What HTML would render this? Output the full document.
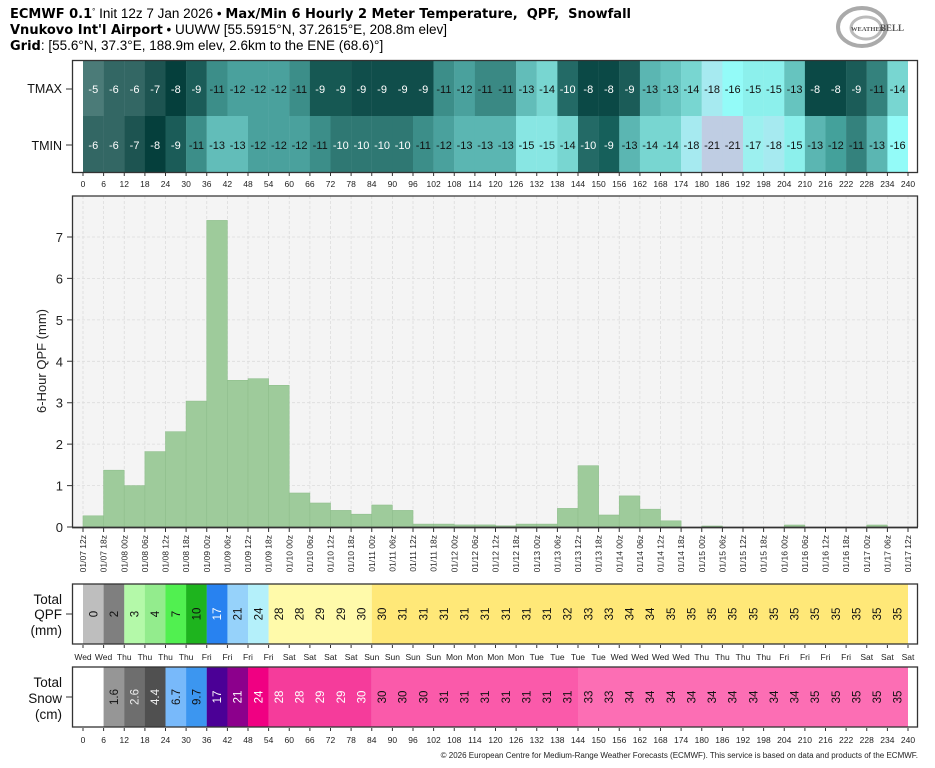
<!DOCTYPE html>
<html><head><meta charset="utf-8"><style>
html,body{margin:0;padding:0;background:#fff;}
svg{display:block;font-family:"Liberation Sans","DejaVu Sans",sans-serif;}
.t{font-size:8.5px;fill:#222;text-anchor:middle;}
.c{font-size:11px;text-anchor:middle;}
.d{font-size:8.5px;fill:#222;text-anchor:end;}
.b{font-family:"DejaVu Sans",sans-serif;font-weight:bold;font-size:13px;}
</style></head><body>
<svg width="935" height="768" viewBox="0 0 935 768" xmlns="http://www.w3.org/2000/svg">
<!-- header -->
<text x="10" y="18" font-size="13.5" fill="#000"><tspan class="b">ECMWF 0.1</tspan><tspan font-size="8" dy="-4">°</tspan><tspan dy="4"> Init 12z 7 Jan 2026 • </tspan><tspan class="b">Max/Min 6 Hourly 2 Meter Temperature,&#160; QPF,&#160; Snowfall</tspan></text>
<text x="10" y="34" font-size="13.5" fill="#000"><tspan class="b">Vnukovo Int'l Airport</tspan> • UUWW [55.5915°N, 37.2615°E, 208.8m elev]</text>
<text x="10" y="50" font-size="13.5" fill="#000"><tspan class="b">Grid</tspan>: [55.6°N, 37.3°E, 188.9m elev, 2.6km to the ENE (68.6)°]</text>
<!-- logo -->
<g fill="none" stroke="#999">
<ellipse cx="862" cy="27" rx="24" ry="19" stroke-width="4" stroke="#aaa"/>
<ellipse cx="866" cy="28" rx="15" ry="11" stroke-width="3" stroke="#bbb"/>
</g>
<text x="851" y="31" font-size="6.5" font-family="Liberation Serif,serif" fill="#555" font-weight="bold">WEATHER</text>
<text x="880" y="31" font-size="9" font-family="Liberation Serif,serif" fill="#555" font-weight="bold">BELL</text>

<!-- heatmap -->
<g>
<g transform="translate(83,0)">
<rect x="0" y="61" width="20.8" height="55" fill="#4b7b78"/><text x="10.3" y="93" class="c" fill="#fff">-5</text>
<rect x="0" y="116" width="20.8" height="56" fill="#336764"/><text x="10.3" y="149" class="c" fill="#fff">-6</text></g>
<g transform="translate(103.6,0)">
<rect x="0" y="61" width="20.8" height="55" fill="#336764"/><text x="10.3" y="93" class="c" fill="#fff">-6</text>
<rect x="0" y="116" width="20.8" height="56" fill="#336764"/><text x="10.3" y="149" class="c" fill="#fff">-6</text></g>
<g transform="translate(124.25,0)">
<rect x="0" y="61" width="20.8" height="55" fill="#336764"/><text x="10.3" y="93" class="c" fill="#fff">-6</text>
<rect x="0" y="116" width="20.8" height="56" fill="#1d5451"/><text x="10.3" y="149" class="c" fill="#fff">-7</text></g>
<g transform="translate(144.9,0)">
<rect x="0" y="61" width="20.8" height="55" fill="#1d5451"/><text x="10.3" y="93" class="c" fill="#fff">-7</text>
<rect x="0" y="116" width="20.8" height="56" fill="#053f3c"/><text x="10.3" y="149" class="c" fill="#fff">-8</text></g>
<g transform="translate(165.5,0)">
<rect x="0" y="61" width="20.8" height="55" fill="#053f3c"/><text x="10.3" y="93" class="c" fill="#fff">-8</text>
<rect x="0" y="116" width="20.8" height="56" fill="#1b5c58"/><text x="10.3" y="149" class="c" fill="#fff">-9</text></g>
<g transform="translate(186.1,0)">
<rect x="0" y="61" width="20.8" height="55" fill="#1b5c58"/><text x="10.3" y="93" class="c" fill="#fff">-9</text>
<rect x="0" y="116" width="20.8" height="56" fill="#3c8e89"/><text x="10.3" y="149" class="c" fill="#111">-11</text></g>
<g transform="translate(206.75,0)">
<rect x="0" y="61" width="20.8" height="55" fill="#3c8e89"/><text x="10.3" y="93" class="c" fill="#111">-11</text>
<rect x="0" y="116" width="20.8" height="56" fill="#62bdb9"/><text x="10.3" y="149" class="c" fill="#111">-13</text></g>
<g transform="translate(227.4,0)">
<rect x="0" y="61" width="20.8" height="55" fill="#4aa19d"/><text x="10.3" y="93" class="c" fill="#111">-12</text>
<rect x="0" y="116" width="20.8" height="56" fill="#62bdb9"/><text x="10.3" y="149" class="c" fill="#111">-13</text></g>
<g transform="translate(248,0)">
<rect x="0" y="61" width="20.8" height="55" fill="#4aa19d"/><text x="10.3" y="93" class="c" fill="#111">-12</text>
<rect x="0" y="116" width="20.8" height="56" fill="#4aa19d"/><text x="10.3" y="149" class="c" fill="#111">-12</text></g>
<g transform="translate(268.6,0)">
<rect x="0" y="61" width="20.8" height="55" fill="#4aa19d"/><text x="10.3" y="93" class="c" fill="#111">-12</text>
<rect x="0" y="116" width="20.8" height="56" fill="#4aa19d"/><text x="10.3" y="149" class="c" fill="#111">-12</text></g>
<g transform="translate(289.25,0)">
<rect x="0" y="61" width="20.8" height="55" fill="#3c8e89"/><text x="10.3" y="93" class="c" fill="#111">-11</text>
<rect x="0" y="116" width="20.8" height="56" fill="#4aa19d"/><text x="10.3" y="149" class="c" fill="#111">-12</text></g>
<g transform="translate(309.9,0)">
<rect x="0" y="61" width="20.8" height="55" fill="#165853"/><text x="10.3" y="93" class="c" fill="#fff">-9</text>
<rect x="0" y="116" width="20.8" height="56" fill="#3c8e89"/><text x="10.3" y="149" class="c" fill="#111">-11</text></g>
<g transform="translate(330.5,0)">
<rect x="0" y="61" width="20.8" height="55" fill="#165853"/><text x="10.3" y="93" class="c" fill="#fff">-9</text>
<rect x="0" y="116" width="20.8" height="56" fill="#2f7873"/><text x="10.3" y="149" class="c" fill="#fff">-10</text></g>
<g transform="translate(351.1,0)">
<rect x="0" y="61" width="20.8" height="55" fill="#104e4b"/><text x="10.3" y="93" class="c" fill="#fff">-9</text>
<rect x="0" y="116" width="20.8" height="56" fill="#2f7873"/><text x="10.3" y="149" class="c" fill="#fff">-10</text></g>
<g transform="translate(371.75,0)">
<rect x="0" y="61" width="20.8" height="55" fill="#104e4b"/><text x="10.3" y="93" class="c" fill="#fff">-9</text>
<rect x="0" y="116" width="20.8" height="56" fill="#2f7873"/><text x="10.3" y="149" class="c" fill="#fff">-10</text></g>
<g transform="translate(392.4,0)">
<rect x="0" y="61" width="20.8" height="55" fill="#104e4b"/><text x="10.3" y="93" class="c" fill="#fff">-9</text>
<rect x="0" y="116" width="20.8" height="56" fill="#2f7873"/><text x="10.3" y="149" class="c" fill="#fff">-10</text></g>
<g transform="translate(413,0)">
<rect x="0" y="61" width="20.8" height="55" fill="#104e4b"/><text x="10.3" y="93" class="c" fill="#fff">-9</text>
<rect x="0" y="116" width="20.8" height="56" fill="#3c8e89"/><text x="10.3" y="149" class="c" fill="#111">-11</text></g>
<g transform="translate(433.6,0)">
<rect x="0" y="61" width="20.8" height="55" fill="#3c8e89"/><text x="10.3" y="93" class="c" fill="#111">-11</text>
<rect x="0" y="116" width="20.8" height="56" fill="#4aa19d"/><text x="10.3" y="149" class="c" fill="#111">-12</text></g>
<g transform="translate(454.25,0)">
<rect x="0" y="61" width="20.8" height="55" fill="#4aa19d"/><text x="10.3" y="93" class="c" fill="#111">-12</text>
<rect x="0" y="116" width="20.8" height="56" fill="#5bb6b2"/><text x="10.3" y="149" class="c" fill="#111">-13</text></g>
<g transform="translate(474.9,0)">
<rect x="0" y="61" width="20.8" height="55" fill="#3a8984"/><text x="10.3" y="93" class="c" fill="#111">-11</text>
<rect x="0" y="116" width="20.8" height="56" fill="#5bb6b2"/><text x="10.3" y="149" class="c" fill="#111">-13</text></g>
<g transform="translate(495.5,0)">
<rect x="0" y="61" width="20.8" height="55" fill="#3a8984"/><text x="10.3" y="93" class="c" fill="#111">-11</text>
<rect x="0" y="116" width="20.8" height="56" fill="#5bb6b2"/><text x="10.3" y="149" class="c" fill="#111">-13</text></g>
<g transform="translate(516.1,0)">
<rect x="0" y="61" width="20.8" height="55" fill="#62bdb9"/><text x="10.3" y="93" class="c" fill="#111">-13</text>
<rect x="0" y="116" width="20.8" height="56" fill="#88e6e3"/><text x="10.3" y="149" class="c" fill="#111">-15</text></g>
<g transform="translate(536.75,0)">
<rect x="0" y="61" width="20.8" height="55" fill="#78d6d1"/><text x="10.3" y="93" class="c" fill="#111">-14</text>
<rect x="0" y="116" width="20.8" height="56" fill="#88e6e3"/><text x="10.3" y="149" class="c" fill="#111">-15</text></g>
<g transform="translate(557.4,0)">
<rect x="0" y="61" width="20.8" height="55" fill="#236a66"/><text x="10.3" y="93" class="c" fill="#fff">-10</text>
<rect x="0" y="116" width="20.8" height="56" fill="#78d6d1"/><text x="10.3" y="149" class="c" fill="#111">-14</text></g>
<g transform="translate(578,0)">
<rect x="0" y="61" width="20.8" height="55" fill="#0b4946"/><text x="10.3" y="93" class="c" fill="#fff">-8</text>
<rect x="0" y="116" width="20.8" height="56" fill="#236a66"/><text x="10.3" y="149" class="c" fill="#fff">-10</text></g>
<g transform="translate(598.6,0)">
<rect x="0" y="61" width="20.8" height="55" fill="#0b4946"/><text x="10.3" y="93" class="c" fill="#fff">-8</text>
<rect x="0" y="116" width="20.8" height="56" fill="#16605b"/><text x="10.3" y="149" class="c" fill="#fff">-9</text></g>
<g transform="translate(619.25,0)">
<rect x="0" y="61" width="20.8" height="55" fill="#1b5c58"/><text x="10.3" y="93" class="c" fill="#fff">-9</text>
<rect x="0" y="116" width="20.8" height="56" fill="#5bb6b2"/><text x="10.3" y="149" class="c" fill="#111">-13</text></g>
<g transform="translate(639.9,0)">
<rect x="0" y="61" width="20.8" height="55" fill="#5bb6b2"/><text x="10.3" y="93" class="c" fill="#111">-13</text>
<rect x="0" y="116" width="20.8" height="56" fill="#78d6d1"/><text x="10.3" y="149" class="c" fill="#111">-14</text></g>
<g transform="translate(660.5,0)">
<rect x="0" y="61" width="20.8" height="55" fill="#66c4bf"/><text x="10.3" y="93" class="c" fill="#111">-13</text>
<rect x="0" y="116" width="20.8" height="56" fill="#78d6d1"/><text x="10.3" y="149" class="c" fill="#111">-14</text></g>
<g transform="translate(681.1,0)">
<rect x="0" y="61" width="20.8" height="55" fill="#78d6d1"/><text x="10.3" y="93" class="c" fill="#111">-14</text>
<rect x="0" y="116" width="20.8" height="56" fill="#a6eaf0"/><text x="10.3" y="149" class="c" fill="#111">-18</text></g>
<g transform="translate(701.75,0)">
<rect x="0" y="61" width="20.8" height="55" fill="#a6eaf0"/><text x="10.3" y="93" class="c" fill="#111">-18</text>
<rect x="0" y="116" width="20.8" height="56" fill="#bfcde3"/><text x="10.3" y="149" class="c" fill="#111">-21</text></g>
<g transform="translate(722.4,0)">
<rect x="0" y="61" width="20.8" height="55" fill="#93fbf8"/><text x="10.3" y="93" class="c" fill="#111">-16</text>
<rect x="0" y="116" width="20.8" height="56" fill="#bfcde3"/><text x="10.3" y="149" class="c" fill="#111">-21</text></g>
<g transform="translate(743,0)">
<rect x="0" y="61" width="20.8" height="55" fill="#8cf0ec"/><text x="10.3" y="93" class="c" fill="#111">-15</text>
<rect x="0" y="116" width="20.8" height="56" fill="#9cf0ef"/><text x="10.3" y="149" class="c" fill="#111">-17</text></g>
<g transform="translate(763.6,0)">
<rect x="0" y="61" width="20.8" height="55" fill="#8cf0ec"/><text x="10.3" y="93" class="c" fill="#111">-15</text>
<rect x="0" y="116" width="20.8" height="56" fill="#a6eaf0"/><text x="10.3" y="149" class="c" fill="#111">-18</text></g>
<g transform="translate(784.25,0)">
<rect x="0" y="61" width="20.8" height="55" fill="#66c4bf"/><text x="10.3" y="93" class="c" fill="#111">-13</text>
<rect x="0" y="116" width="20.8" height="56" fill="#8cf0ec"/><text x="10.3" y="149" class="c" fill="#111">-15</text></g>
<g transform="translate(804.9,0)">
<rect x="0" y="61" width="20.8" height="55" fill="#0b4946"/><text x="10.3" y="93" class="c" fill="#fff">-8</text>
<rect x="0" y="116" width="20.8" height="56" fill="#5bb6b2"/><text x="10.3" y="149" class="c" fill="#111">-13</text></g>
<g transform="translate(825.5,0)">
<rect x="0" y="61" width="20.8" height="55" fill="#0b4946"/><text x="10.3" y="93" class="c" fill="#fff">-8</text>
<rect x="0" y="116" width="20.8" height="56" fill="#44a19b"/><text x="10.3" y="149" class="c" fill="#111">-12</text></g>
<g transform="translate(846.1,0)">
<rect x="0" y="61" width="20.8" height="55" fill="#1b5c58"/><text x="10.3" y="93" class="c" fill="#fff">-9</text>
<rect x="0" y="116" width="20.8" height="56" fill="#34827d"/><text x="10.3" y="149" class="c" fill="#111">-11</text></g>
<g transform="translate(866.75,0)">
<rect x="0" y="61" width="20.8" height="55" fill="#34827d"/><text x="10.3" y="93" class="c" fill="#111">-11</text>
<rect x="0" y="116" width="20.8" height="56" fill="#5bb6b2"/><text x="10.3" y="149" class="c" fill="#111">-13</text></g>
<g transform="translate(887.4,0)">
<rect x="0" y="61" width="20.6" height="55" fill="#78d6d1"/><text x="10.3" y="93" class="c" fill="#111">-14</text>
<rect x="0" y="116" width="20.6" height="56" fill="#93fbf8"/><text x="10.3" y="149" class="c" fill="#111">-16</text></g>
<rect x="72.5" y="60.5" width="845" height="112" fill="none" stroke="#333" stroke-width="1.3"/>
<text x="62" y="93" font-size="12.5" text-anchor="end" fill="#111">TMAX</text>
<text x="62" y="150" font-size="12.5" text-anchor="end" fill="#111">TMIN</text>
<line x1="66" y1="89" x2="72" y2="89" stroke="#333"/><line x1="66" y1="145" x2="72" y2="145" stroke="#333"/>
</g>
<!-- ticks -->
<g stroke="#333" stroke-width="1">
<path d="M83 173v3M103.6 173v3M124.25 173v3M144.9 173v3M165.5 173v3M186.1 173v3M206.75 173v3M227.4 173v3M248 173v3M268.6 173v3M289.25 173v3M309.9 173v3M330.5 173v3M351.1 173v3M371.75 173v3M392.4 173v3M413 173v3M433.6 173v3M454.25 173v3M474.9 173v3M495.5 173v3M516.1 173v3M536.75 173v3M557.4 173v3M578 173v3M598.6 173v3M619.25 173v3M639.9 173v3M660.5 173v3M681.1 173v3M701.75 173v3M722.4 173v3M743 173v3M763.6 173v3M784.25 173v3M804.9 173v3M825.5 173v3M846.1 173v3M866.75 173v3M887.4 173v3M908 173v3"/>
<path d="M83 728v3M103.6 728v3M124.25 728v3M144.9 728v3M165.5 728v3M186.1 728v3M206.75 728v3M227.4 728v3M248 728v3M268.6 728v3M289.25 728v3M309.9 728v3M330.5 728v3M351.1 728v3M371.75 728v3M392.4 728v3M413 728v3M433.6 728v3M454.25 728v3M474.9 728v3M495.5 728v3M516.1 728v3M536.75 728v3M557.4 728v3M578 728v3M598.6 728v3M619.25 728v3M639.9 728v3M660.5 728v3M681.1 728v3M701.75 728v3M722.4 728v3M743 728v3M763.6 728v3M784.25 728v3M804.9 728v3M825.5 728v3M846.1 728v3M866.75 728v3M887.4 728v3M908 728v3"/>
<path d="M83 645v3M103.6 645v3M124.25 645v3M144.9 645v3M165.5 645v3M186.1 645v3M206.75 645v3M227.4 645v3M248 645v3M268.6 645v3M289.25 645v3M309.9 645v3M330.5 645v3M351.1 645v3M371.75 645v3M392.4 645v3M413 645v3M433.6 645v3M454.25 645v3M474.9 645v3M495.5 645v3M516.1 645v3M536.75 645v3M557.4 645v3M578 645v3M598.6 645v3M619.25 645v3M639.9 645v3M660.5 645v3M681.1 645v3M701.75 645v3M722.4 645v3M743 645v3M763.6 645v3M784.25 645v3M804.9 645v3M825.5 645v3M846.1 645v3M866.75 645v3M887.4 645v3M908 645v3"/>
<path d="M83 528v4M103.6 528v4M124.25 528v4M144.9 528v4M165.5 528v4M186.1 528v4M206.75 528v4M227.4 528v4M248 528v4M268.6 528v4M289.25 528v4M309.9 528v4M330.5 528v4M351.1 528v4M371.75 528v4M392.4 528v4M413 528v4M433.6 528v4M454.25 528v4M474.9 528v4M495.5 528v4M516.1 528v4M536.75 528v4M557.4 528v4M578 528v4M598.6 528v4M619.25 528v4M639.9 528v4M660.5 528v4M681.1 528v4M701.75 528v4M722.4 528v4M743 528v4M763.6 528v4M784.25 528v4M804.9 528v4M825.5 528v4M846.1 528v4M866.75 528v4M887.4 528v4M908 528v4"/>
<path d="M67 527h5M67 485.6h5M67 444.1h5M67 402.7h5M67 361.3h5M67 319.9h5M67 278.4h5M67 237h5M66 614h6M66 697h6"/>
</g>
<g class="t">
<text x="83" y="187" class="t">0</text><text x="103.6" y="187" class="t">6</text><text x="124.25" y="187" class="t">12</text><text x="144.9" y="187" class="t">18</text><text x="165.5" y="187" class="t">24</text><text x="186.1" y="187" class="t">30</text><text x="206.75" y="187" class="t">36</text><text x="227.4" y="187" class="t">42</text><text x="248" y="187" class="t">48</text><text x="268.6" y="187" class="t">54</text><text x="289.25" y="187" class="t">60</text><text x="309.9" y="187" class="t">66</text><text x="330.5" y="187" class="t">72</text><text x="351.1" y="187" class="t">78</text><text x="371.75" y="187" class="t">84</text><text x="392.4" y="187" class="t">90</text><text x="413" y="187" class="t">96</text><text x="433.6" y="187" class="t">102</text><text x="454.25" y="187" class="t">108</text><text x="474.9" y="187" class="t">114</text><text x="495.5" y="187" class="t">120</text><text x="516.1" y="187" class="t">126</text><text x="536.75" y="187" class="t">132</text><text x="557.4" y="187" class="t">138</text><text x="578" y="187" class="t">144</text><text x="598.6" y="187" class="t">150</text><text x="619.25" y="187" class="t">156</text><text x="639.9" y="187" class="t">162</text><text x="660.5" y="187" class="t">168</text><text x="681.1" y="187" class="t">174</text><text x="701.75" y="187" class="t">180</text><text x="722.4" y="187" class="t">186</text><text x="743" y="187" class="t">192</text><text x="763.6" y="187" class="t">198</text><text x="784.25" y="187" class="t">204</text><text x="804.9" y="187" class="t">210</text><text x="825.5" y="187" class="t">216</text><text x="846.1" y="187" class="t">222</text><text x="866.75" y="187" class="t">228</text><text x="887.4" y="187" class="t">234</text><text x="908" y="187" class="t">240</text>
</g>

<!-- main chart -->
<rect x="72.5" y="196" width="845" height="331" fill="#f4f4f4"/>
<g stroke="#dcdcdc" stroke-width="0.8" stroke-dasharray="3,2">
<path d="M72 485.6H918M72 444.1H918M72 402.7H918M72 361.3H918M72 319.9H918M72 278.4H918M72 237H918"/>
<path d="M83 196V527M103.6 196V527M124.25 196V527M144.9 196V527M165.5 196V527M186.1 196V527M206.75 196V527M227.4 196V527M248 196V527M268.6 196V527M289.25 196V527M309.9 196V527M330.5 196V527M351.1 196V527M371.75 196V527M392.4 196V527M413 196V527M433.6 196V527M454.25 196V527M474.9 196V527M495.5 196V527M516.1 196V527M536.75 196V527M557.4 196V527M578 196V527M598.6 196V527M619.25 196V527M639.9 196V527M660.5 196V527M681.1 196V527M701.75 196V527M722.4 196V527M743 196V527M763.6 196V527M784.25 196V527M804.9 196V527M825.5 196V527M846.1 196V527M866.75 196V527M887.4 196V527M908 196V527"/>
</g>
<g fill="#9ecb9b" stroke="#8fbf8d" stroke-width="0.6">
<rect x="83" y="515.8" width="20.6" height="11.2"/>
<rect x="103.6" y="470.2" width="20.6" height="56.8"/>
<rect x="124.25" y="485.6" width="20.6" height="41.4"/>
<rect x="144.9" y="451.6" width="20.6" height="75.4"/>
<rect x="165.5" y="431.7" width="20.6" height="95.3"/>
<rect x="186.1" y="401.1" width="20.6" height="125.9"/>
<rect x="206.75" y="220.4" width="20.6" height="306.6"/>
<rect x="227.4" y="380.3" width="20.6" height="146.7"/>
<rect x="248" y="378.7" width="20.6" height="148.3"/>
<rect x="268.6" y="385.3" width="20.6" height="141.7"/>
<rect x="289.25" y="493" width="20.6" height="34"/>
<rect x="309.9" y="503" width="20.6" height="24"/>
<rect x="330.5" y="510.4" width="20.6" height="16.6"/>
<rect x="351.1" y="514.2" width="20.6" height="12.8"/>
<rect x="371.75" y="505" width="20.6" height="22"/>
<rect x="392.4" y="510.4" width="20.6" height="16.6"/>
<rect x="413" y="524.1" width="20.6" height="2.9"/>
<rect x="433.6" y="524.1" width="20.6" height="2.9"/>
<rect x="454.25" y="524.9" width="20.6" height="2.1"/>
<rect x="474.9" y="524.9" width="20.6" height="2.1"/>
<rect x="495.5" y="525.8" width="20.6" height="1.2"/>
<rect x="516.1" y="524.1" width="20.6" height="2.9"/>
<rect x="536.75" y="524.1" width="20.6" height="2.9"/>
<rect x="557.4" y="508.4" width="20.6" height="18.6"/>
<rect x="578" y="465.7" width="20.6" height="61.3"/>
<rect x="598.6" y="515" width="20.6" height="12"/>
<rect x="619.25" y="495.9" width="20.6" height="31.1"/>
<rect x="639.9" y="509.2" width="20.6" height="17.8"/>
<rect x="660.5" y="520.8" width="20.6" height="6.2"/>
<rect x="701.75" y="526" width="20.6" height="1"/>
<rect x="784.25" y="525" width="20.6" height="2"/>
<rect x="866.75" y="525" width="20.6" height="2"/>
</g>
<path d="M72.5 527V196H917.5V527" fill="none" stroke="#333" stroke-width="1.3"/>
<line x1="72" y1="527.5" x2="918" y2="527.5" stroke="#333" stroke-width="1.8"/>
<g font-size="13" text-anchor="end" fill="#222">
<text x="63" y="532">0</text><text x="63" y="490.6">1</text><text x="63" y="449.1">2</text><text x="63" y="407.7">3</text><text x="63" y="366.3">4</text><text x="63" y="324.9">5</text><text x="63" y="283.4">6</text><text x="63" y="242">7</text>
</g>
<text transform="translate(46,361) rotate(-90)" font-size="13" text-anchor="middle" fill="#222">6-Hour QPF (mm)</text>
<g class="d">
<text transform="translate(86,535) rotate(-90)" class="d">01/07 12z</text>
<text transform="translate(106.6,535) rotate(-90)" class="d">01/07 18z</text>
<text transform="translate(127.25,535) rotate(-90)" class="d">01/08 00z</text>
<text transform="translate(147.9,535) rotate(-90)" class="d">01/08 06z</text>
<text transform="translate(168.5,535) rotate(-90)" class="d">01/08 12z</text>
<text transform="translate(189.1,535) rotate(-90)" class="d">01/08 18z</text>
<text transform="translate(209.75,535) rotate(-90)" class="d">01/09 00z</text>
<text transform="translate(230.4,535) rotate(-90)" class="d">01/09 06z</text>
<text transform="translate(251,535) rotate(-90)" class="d">01/09 12z</text>
<text transform="translate(271.6,535) rotate(-90)" class="d">01/09 18z</text>
<text transform="translate(292.25,535) rotate(-90)" class="d">01/10 00z</text>
<text transform="translate(312.9,535) rotate(-90)" class="d">01/10 06z</text>
<text transform="translate(333.5,535) rotate(-90)" class="d">01/10 12z</text>
<text transform="translate(354.1,535) rotate(-90)" class="d">01/10 18z</text>
<text transform="translate(374.75,535) rotate(-90)" class="d">01/11 00z</text>
<text transform="translate(395.4,535) rotate(-90)" class="d">01/11 06z</text>
<text transform="translate(416,535) rotate(-90)" class="d">01/11 12z</text>
<text transform="translate(436.6,535) rotate(-90)" class="d">01/11 18z</text>
<text transform="translate(457.25,535) rotate(-90)" class="d">01/12 00z</text>
<text transform="translate(477.9,535) rotate(-90)" class="d">01/12 06z</text>
<text transform="translate(498.5,535) rotate(-90)" class="d">01/12 12z</text>
<text transform="translate(519.1,535) rotate(-90)" class="d">01/12 18z</text>
<text transform="translate(539.75,535) rotate(-90)" class="d">01/13 00z</text>
<text transform="translate(560.4,535) rotate(-90)" class="d">01/13 06z</text>
<text transform="translate(581,535) rotate(-90)" class="d">01/13 12z</text>
<text transform="translate(601.6,535) rotate(-90)" class="d">01/13 18z</text>
<text transform="translate(622.25,535) rotate(-90)" class="d">01/14 00z</text>
<text transform="translate(642.9,535) rotate(-90)" class="d">01/14 06z</text>
<text transform="translate(663.5,535) rotate(-90)" class="d">01/14 12z</text>
<text transform="translate(684.1,535) rotate(-90)" class="d">01/14 18z</text>
<text transform="translate(704.75,535) rotate(-90)" class="d">01/15 00z</text>
<text transform="translate(725.4,535) rotate(-90)" class="d">01/15 06z</text>
<text transform="translate(746,535) rotate(-90)" class="d">01/15 12z</text>
<text transform="translate(766.6,535) rotate(-90)" class="d">01/15 18z</text>
<text transform="translate(787.25,535) rotate(-90)" class="d">01/16 00z</text>
<text transform="translate(807.9,535) rotate(-90)" class="d">01/16 06z</text>
<text transform="translate(828.5,535) rotate(-90)" class="d">01/16 12z</text>
<text transform="translate(849.1,535) rotate(-90)" class="d">01/16 18z</text>
<text transform="translate(869.75,535) rotate(-90)" class="d">01/17 00z</text>
<text transform="translate(890.4,535) rotate(-90)" class="d">01/17 06z</text>
<text transform="translate(911,535) rotate(-90)" class="d">01/17 12z</text>
</g>

<!-- Total QPF -->
<g>
<rect x="83" y="584" width="20.8" height="60" fill="#bebebe"/>
<rect x="103.6" y="584" width="20.8" height="60" fill="#7f7f7f"/>
<rect x="124.25" y="584" width="20.8" height="60" fill="#b4f9a9"/>
<rect x="144.9" y="584" width="20.8" height="60" fill="#93ec8d"/>
<rect x="165.5" y="584" width="20.8" height="60" fill="#51f050"/>
<rect x="186.1" y="584" width="20.8" height="60" fill="#1eb41e"/>
<rect x="206.75" y="584" width="20.8" height="60" fill="#2882f0"/>
<rect x="227.4" y="584" width="20.8" height="60" fill="#96d2fa"/>
<rect x="248" y="584" width="20.8" height="60" fill="#b4f0fa"/>
<rect x="268.6" y="584" width="103.2" height="60" fill="#fffaaa"/>
<rect x="371.75" y="584" width="536.25" height="60" fill="#ffe878"/>
</g>
<g font-size="11.5" text-anchor="middle" fill="#111">
<text transform="translate(97.3,614) rotate(-90)">0</text>
<text transform="translate(117.9,614) rotate(-90)">2</text>
<text transform="translate(138.6,614) rotate(-90)">3</text>
<text transform="translate(159.2,614) rotate(-90)">4</text>
<text transform="translate(179.8,614) rotate(-90)">7</text>
<text transform="translate(200.4,614) rotate(-90)">10</text>
<text transform="translate(221.1,614) rotate(-90)" fill="#fff">17</text>
<text transform="translate(241.7,614) rotate(-90)">21</text>
<text transform="translate(262.3,614) rotate(-90)">24</text>
<text transform="translate(282.9,614) rotate(-90)">28</text>
<text transform="translate(303.6,614) rotate(-90)">28</text>
<text transform="translate(324.2,614) rotate(-90)">29</text>
<text transform="translate(344.8,614) rotate(-90)">29</text>
<text transform="translate(365.4,614) rotate(-90)">30</text>
<text transform="translate(386.1,614) rotate(-90)">30</text>
<text transform="translate(406.7,614) rotate(-90)">31</text>
<text transform="translate(427.3,614) rotate(-90)">31</text>
<text transform="translate(447.9,614) rotate(-90)">31</text>
<text transform="translate(468.6,614) rotate(-90)">31</text>
<text transform="translate(489.2,614) rotate(-90)">31</text>
<text transform="translate(509.8,614) rotate(-90)">31</text>
<text transform="translate(530.4,614) rotate(-90)">31</text>
<text transform="translate(551.1,614) rotate(-90)">31</text>
<text transform="translate(571.7,614) rotate(-90)">32</text>
<text transform="translate(592.3,614) rotate(-90)">33</text>
<text transform="translate(612.9,614) rotate(-90)">33</text>
<text transform="translate(633.6,614) rotate(-90)">34</text>
<text transform="translate(654.2,614) rotate(-90)">34</text>
<text transform="translate(674.8,614) rotate(-90)">35</text>
<text transform="translate(695.4,614) rotate(-90)">35</text>
<text transform="translate(716.1,614) rotate(-90)">35</text>
<text transform="translate(736.7,614) rotate(-90)">35</text>
<text transform="translate(757.3,614) rotate(-90)">35</text>
<text transform="translate(777.9,614) rotate(-90)">35</text>
<text transform="translate(798.6,614) rotate(-90)">35</text>
<text transform="translate(819.2,614) rotate(-90)">35</text>
<text transform="translate(839.8,614) rotate(-90)">35</text>
<text transform="translate(860.4,614) rotate(-90)">35</text>
<text transform="translate(881.1,614) rotate(-90)">35</text>
<text transform="translate(901.7,614) rotate(-90)">35</text>
</g>
<rect x="72.5" y="584" width="845" height="60" fill="none" stroke="#333" stroke-width="1.3"/>
<g font-size="13.5" text-anchor="end" fill="#111">
<text x="62" y="604">Total</text><text x="62" y="619">QPF</text><text x="62" y="635">(mm)</text>
<text x="62" y="687">Total</text><text x="62" y="703">Snow</text><text x="62" y="719">(cm)</text>
</g>
<g class="t">
<text x="83" y="660" class="t">Wed</text><text x="103.6" y="660" class="t">Wed</text><text x="124.25" y="660" class="t">Thu</text><text x="144.9" y="660" class="t">Thu</text><text x="165.5" y="660" class="t">Thu</text><text x="186.1" y="660" class="t">Thu</text><text x="206.75" y="660" class="t">Fri</text><text x="227.4" y="660" class="t">Fri</text><text x="248" y="660" class="t">Fri</text><text x="268.6" y="660" class="t">Fri</text><text x="289.25" y="660" class="t">Sat</text><text x="309.9" y="660" class="t">Sat</text><text x="330.5" y="660" class="t">Sat</text><text x="351.1" y="660" class="t">Sat</text><text x="371.75" y="660" class="t">Sun</text><text x="392.4" y="660" class="t">Sun</text><text x="413" y="660" class="t">Sun</text><text x="433.6" y="660" class="t">Sun</text><text x="454.25" y="660" class="t">Mon</text><text x="474.9" y="660" class="t">Mon</text><text x="495.5" y="660" class="t">Mon</text><text x="516.1" y="660" class="t">Mon</text><text x="536.75" y="660" class="t">Tue</text><text x="557.4" y="660" class="t">Tue</text><text x="578" y="660" class="t">Tue</text><text x="598.6" y="660" class="t">Tue</text><text x="619.25" y="660" class="t">Wed</text><text x="639.9" y="660" class="t">Wed</text><text x="660.5" y="660" class="t">Wed</text><text x="681.1" y="660" class="t">Wed</text><text x="701.75" y="660" class="t">Thu</text><text x="722.4" y="660" class="t">Thu</text><text x="743" y="660" class="t">Thu</text><text x="763.6" y="660" class="t">Thu</text><text x="784.25" y="660" class="t">Fri</text><text x="804.9" y="660" class="t">Fri</text><text x="825.5" y="660" class="t">Fri</text><text x="846.1" y="660" class="t">Fri</text><text x="866.75" y="660" class="t">Sat</text><text x="887.4" y="660" class="t">Sat</text><text x="908" y="660" class="t">Sat</text>
</g>

<!-- Total Snow -->
<g>
<rect x="103.6" y="667" width="20.8" height="60" fill="#969696"/>
<rect x="124.25" y="667" width="20.8" height="60" fill="#6e6e6e"/>
<rect x="144.9" y="667" width="20.8" height="60" fill="#505050"/>
<rect x="165.5" y="667" width="20.8" height="60" fill="#78b9fa"/>
<rect x="186.1" y="667" width="20.8" height="60" fill="#3c96f0"/>
<rect x="206.75" y="667" width="20.8" height="60" fill="#4b0096"/>
<rect x="227.4" y="667" width="20.8" height="60" fill="#8c008c"/>
<rect x="248" y="667" width="20.8" height="60" fill="#f00082"/>
<rect x="268.6" y="667" width="103.2" height="60" fill="#f53c9b"/>
<rect x="371.75" y="667" width="206.5" height="60" fill="#fa5aaa"/>
<rect x="578" y="667" width="330" height="60" fill="#fc6eb4"/>
</g>
<g font-size="11.5" text-anchor="middle" fill="#111">
<text transform="translate(117.9,697) rotate(-90)">1.6</text>
<text transform="translate(138.6,697) rotate(-90)" fill="#eee">2.6</text>
<text transform="translate(159.2,697) rotate(-90)" fill="#eee">4.4</text>
<text transform="translate(179.8,697) rotate(-90)">6.7</text>
<text transform="translate(200.4,697) rotate(-90)">9.7</text>
<text transform="translate(221.1,697) rotate(-90)" fill="#fff">17</text>
<text transform="translate(241.7,697) rotate(-90)" fill="#fff">21</text>
<text transform="translate(262.3,697) rotate(-90)" fill="#fff">24</text>
<text transform="translate(282.9,697) rotate(-90)" fill="#fff">28</text>
<text transform="translate(303.6,697) rotate(-90)" fill="#fff">28</text>
<text transform="translate(324.2,697) rotate(-90)" fill="#fff">29</text>
<text transform="translate(344.8,697) rotate(-90)" fill="#fff">29</text>
<text transform="translate(365.4,697) rotate(-90)" fill="#fff">30</text>
<text transform="translate(386.1,697) rotate(-90)">30</text>
<text transform="translate(406.7,697) rotate(-90)">30</text>
<text transform="translate(427.3,697) rotate(-90)">30</text>
<text transform="translate(447.9,697) rotate(-90)">31</text>
<text transform="translate(468.6,697) rotate(-90)">31</text>
<text transform="translate(489.2,697) rotate(-90)">31</text>
<text transform="translate(509.8,697) rotate(-90)">31</text>
<text transform="translate(530.4,697) rotate(-90)">31</text>
<text transform="translate(551.1,697) rotate(-90)">31</text>
<text transform="translate(571.7,697) rotate(-90)">31</text>
<text transform="translate(592.3,697) rotate(-90)">33</text>
<text transform="translate(612.9,697) rotate(-90)">33</text>
<text transform="translate(633.6,697) rotate(-90)">34</text>
<text transform="translate(654.2,697) rotate(-90)">34</text>
<text transform="translate(674.8,697) rotate(-90)">34</text>
<text transform="translate(695.4,697) rotate(-90)">34</text>
<text transform="translate(716.1,697) rotate(-90)">34</text>
<text transform="translate(736.7,697) rotate(-90)">34</text>
<text transform="translate(757.3,697) rotate(-90)">34</text>
<text transform="translate(777.9,697) rotate(-90)">34</text>
<text transform="translate(798.6,697) rotate(-90)">34</text>
<text transform="translate(819.2,697) rotate(-90)">35</text>
<text transform="translate(839.8,697) rotate(-90)">35</text>
<text transform="translate(860.4,697) rotate(-90)">35</text>
<text transform="translate(881.1,697) rotate(-90)">35</text>
<text transform="translate(901.7,697) rotate(-90)">35</text>
</g>
<rect x="72.5" y="667" width="845" height="60" fill="none" stroke="#333" stroke-width="1.3"/>
<g class="t">
<text x="83" y="743" class="t">0</text><text x="103.6" y="743" class="t">6</text><text x="124.25" y="743" class="t">12</text><text x="144.9" y="743" class="t">18</text><text x="165.5" y="743" class="t">24</text><text x="186.1" y="743" class="t">30</text><text x="206.75" y="743" class="t">36</text><text x="227.4" y="743" class="t">42</text><text x="248" y="743" class="t">48</text><text x="268.6" y="743" class="t">54</text><text x="289.25" y="743" class="t">60</text><text x="309.9" y="743" class="t">66</text><text x="330.5" y="743" class="t">72</text><text x="351.1" y="743" class="t">78</text><text x="371.75" y="743" class="t">84</text><text x="392.4" y="743" class="t">90</text><text x="413" y="743" class="t">96</text><text x="433.6" y="743" class="t">102</text><text x="454.25" y="743" class="t">108</text><text x="474.9" y="743" class="t">114</text><text x="495.5" y="743" class="t">120</text><text x="516.1" y="743" class="t">126</text><text x="536.75" y="743" class="t">132</text><text x="557.4" y="743" class="t">138</text><text x="578" y="743" class="t">144</text><text x="598.6" y="743" class="t">150</text><text x="619.25" y="743" class="t">156</text><text x="639.9" y="743" class="t">162</text><text x="660.5" y="743" class="t">168</text><text x="681.1" y="743" class="t">174</text><text x="701.75" y="743" class="t">180</text><text x="722.4" y="743" class="t">186</text><text x="743" y="743" class="t">192</text><text x="763.6" y="743" class="t">198</text><text x="784.25" y="743" class="t">204</text><text x="804.9" y="743" class="t">210</text><text x="825.5" y="743" class="t">216</text><text x="846.1" y="743" class="t">222</text><text x="866.75" y="743" class="t">228</text><text x="887.4" y="743" class="t">234</text><text x="908" y="743" class="t">240</text>
</g>
<text x="918" y="758" font-size="8" text-anchor="end" fill="#222">© 2026 European Centre for Medium-Range Weather Forecasts (ECMWF). This service is based on data and products of the ECMWF.</text>
</svg>
</body></html>
